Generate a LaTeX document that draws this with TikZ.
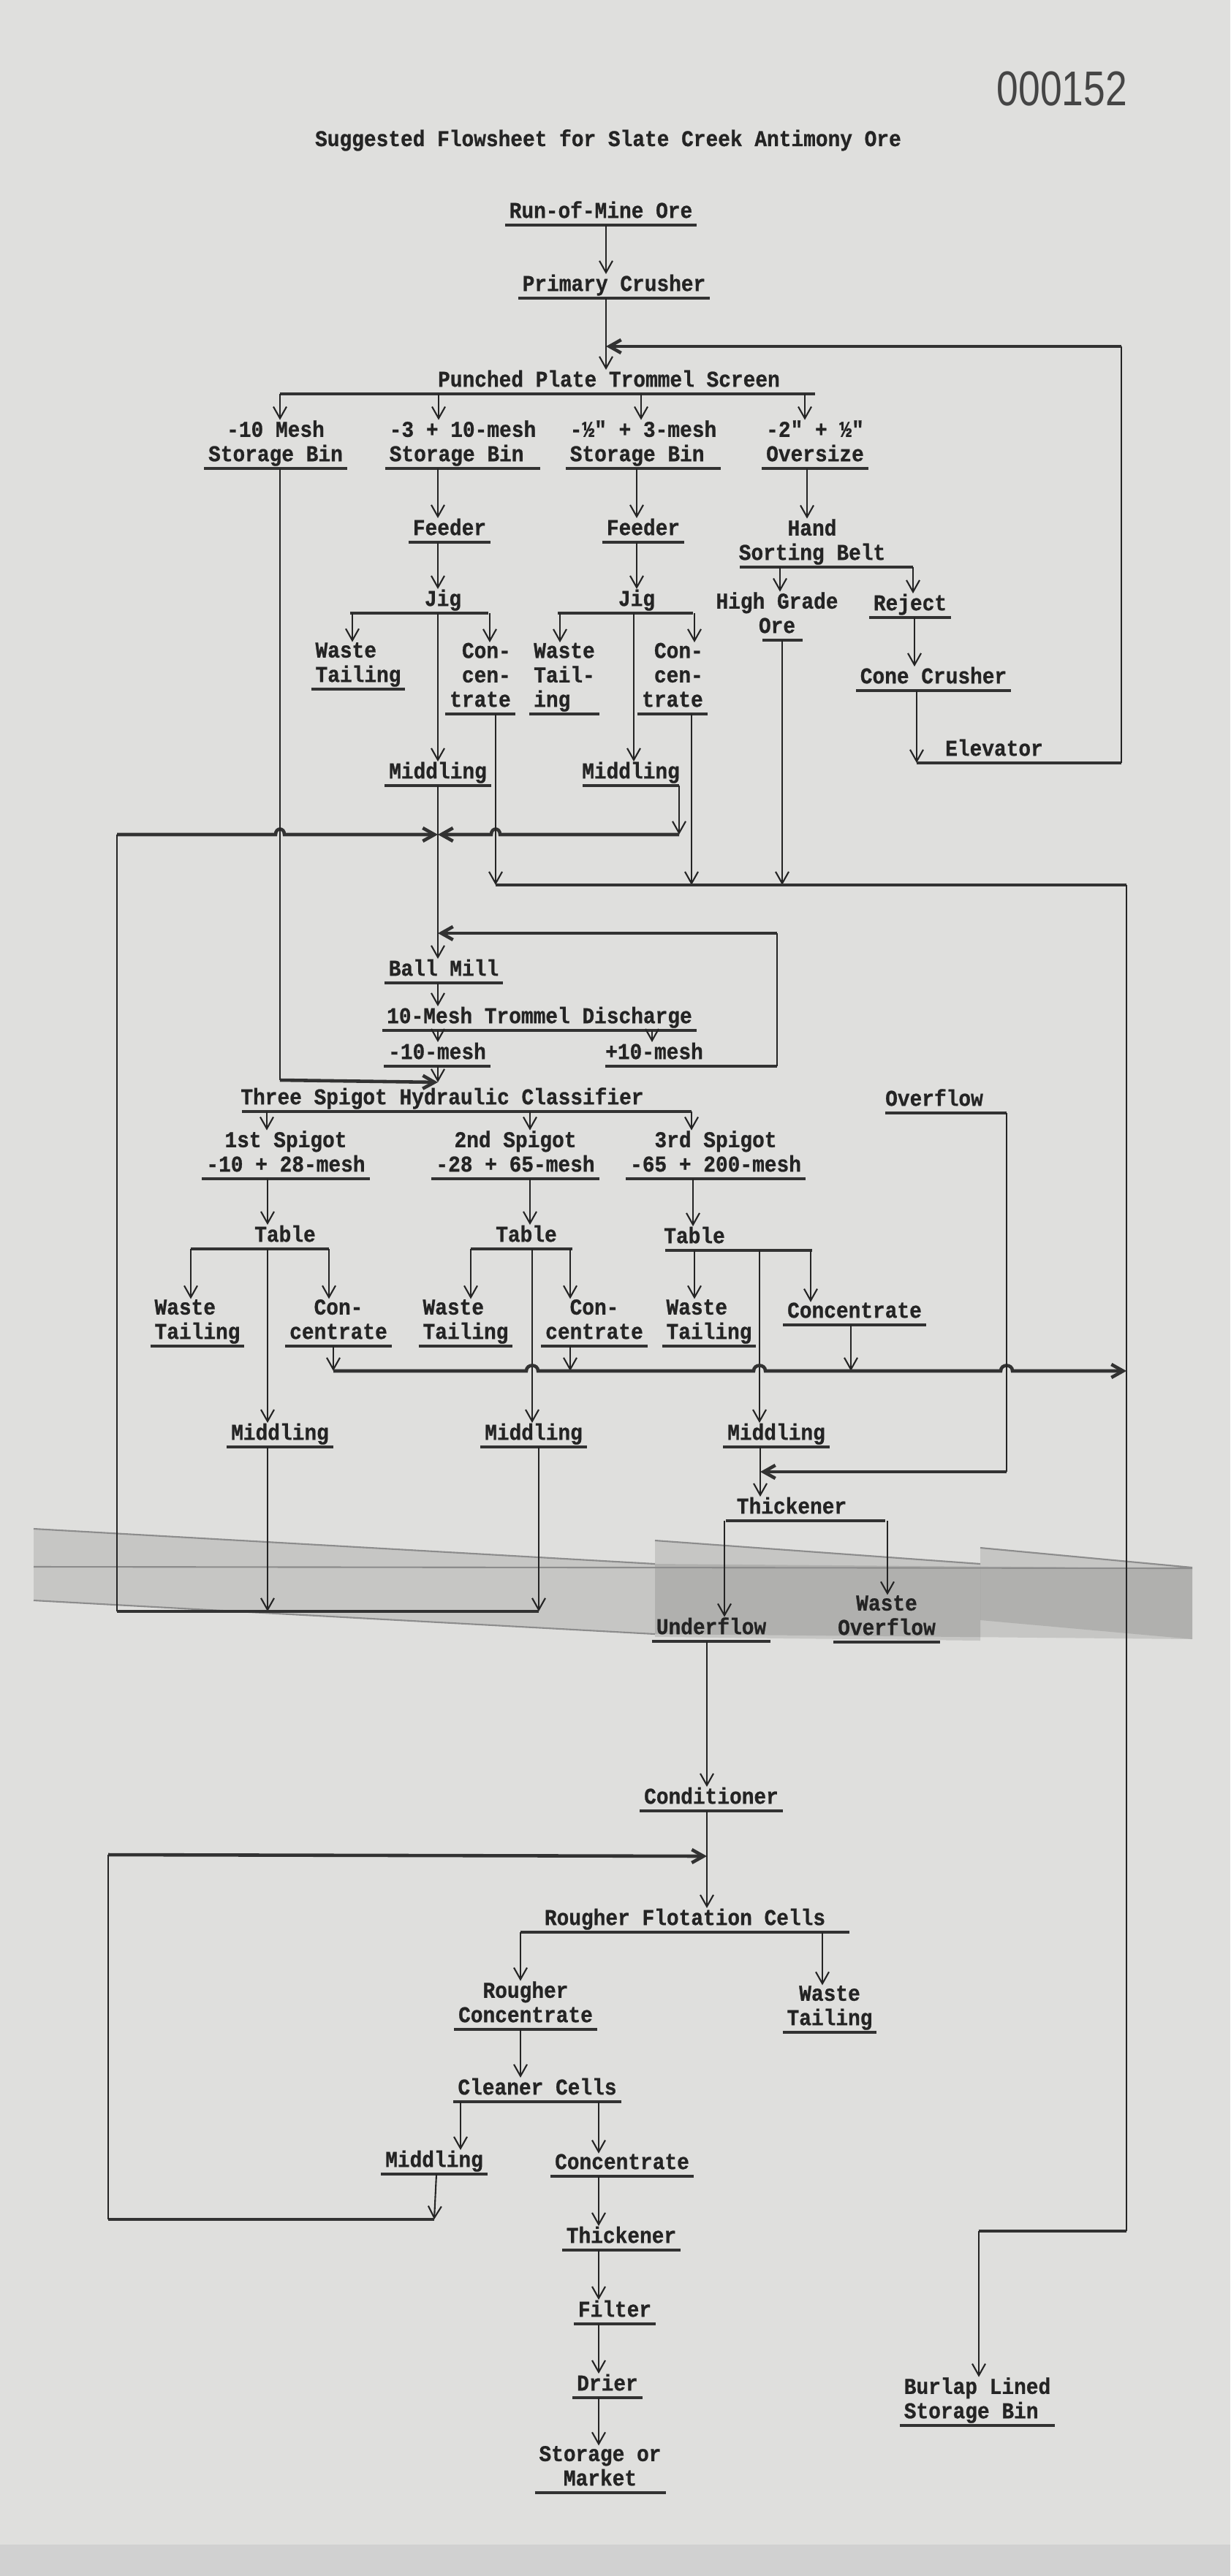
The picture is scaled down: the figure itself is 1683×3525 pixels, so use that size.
\documentclass[tikz,border=0pt]{standalone}
\usepackage{fontspec}
\setmonofont{Liberation Mono}[FakeStretch=0.9, BoldFeatures={FakeBold=0.8}]
\newfontfamily\stampfont{Liberation Sans}[FakeStretch=0.8]
\usetikzlibrary{arrows.meta}
\definecolor{paper}{RGB}{223,223,221}
\definecolor{ink}{RGB}{36,36,36}
\definecolor{ribbon}{RGB}{50,50,50}
\tikzset{
  base/.style={font=\fontsize{8.8}{9.5}\selectfont\ttfamily\bfseries, text=ink,
    inner xsep=1.5pt, inner ysep=0pt, text depth=2.6pt, anchor=south, align=center},
  lab/.style={base, append after command={(\tikzlastnode.south west) edge[uline] (\tikzlastnode.south east)}},
  uline/.style={draw=ribbon, line width=1.3pt},
  bar/.style={draw=ribbon, line width=1.3pt},
  flow/.style={draw=ink, line width=0.6pt},
  tape/.style={fill=black, fill opacity=0.11},
}
\begin{document}
\begin{tikzpicture}[x=0.1mm, y=-0.1mm, >={Straight Barb[length=1.6mm,width=1.8mm]}]
\useasboundingbox (0,0) rectangle (1683,3525);
\fill[paper] (0,0) rectangle (1683,3525);
\fill[black!18] (0,3482) rectangle (1683,3525);
% tape across the sheet
\fill[tape] (46,2092) -- (896,2140) -- (1631,2146) -- (1631,2243) -- (896,2236) -- (46,2190) -- cycle;
\fill[tape] (896,2108) -- (1341,2140) -- (1341,2245) -- (896,2240) -- cycle;
\fill[tape] (1341,2118) -- (1631,2145) -- (1631,2243) -- (1341,2217) -- cycle;
\draw[black!45, line width=0.6pt] (46,2092) -- (896,2140) (896,2108) -- (1341,2140) (1341,2118) -- (1631,2145) (46,2144) -- (1631,2146) (46,2190) -- (896,2236);

\node[base, anchor=base] (title) at (832,200) {Suggested Flowsheet for Slate Creek Antimony Ore};
\node[font=\stampfont\fontsize{19}{19}\selectfont, text=ink!85] (stamp) at (1453,122) {000152};

% crushing and screening
\node[lab] (run) at (822,308) {Run-of-Mine Ore};
\node[lab] (crush) at (840,408) {Primary Crusher};
\node[base] (screen) at (833,539) {Punched Plate Trommel Screen};
\node[lab] (binA) at (377,641) {-10 Mesh\\Storage Bin};
\node[lab, align=left] (binB) at (633,641) {-3 + 10-mesh\\Storage Bin};
\node[lab, align=left] (binC) at (880,641) {-½" + 3-mesh\\Storage Bin};
\node[lab] (over) at (1115,641) {-2" + ½"\\Oversize};
\node[lab] (feedA) at (615,742) {Feeder};
\node[lab] (feedB) at (880,742) {Feeder};
\node[base] (hand) at (1111,776) {Hand\\Sorting Belt};
\node[base] (jigA) at (606,839) {Jig};
\node[base] (jigB) at (871,839) {Jig};
\node[base] (high) at (1063,876) {High Grade\\Ore};
\node[lab] (reject) at (1245,845) {Reject};
\node[lab] (cone) at (1277,945) {Cone Crusher};
\node[base] (elev) at (1360,1044) {Elevator};
\node[lab, align=left] (wtA) at (490,943) {Waste\\Tailing};
\node[lab, align=right] (ccA) at (657,977) {Con-\\cen-\\trate};
\node[lab, align=left] (wtB) at (772,977) {Waste\\Tail-\\ing};
\node[lab, align=right] (ccB) at (920,977) {Con-\\cen-\\trate};
\node[lab] (midA) at (599,1075) {Middling};
\node[base] (midB) at (863,1075) {Middling};

% grinding and classifying
\node[lab] (ball) at (607,1345) {Ball Mill};
\node[lab] (disc) at (738,1410) {10-Mesh Trommel Discharge};
\node[lab] (minus) at (598,1459) {-10-mesh};
\node[base] (plus) at (895,1459) {+10-mesh};
\node[base] (class) at (605,1521) {Three Spigot Hydraulic Classifier};
\node[base] (ovfl) at (1278,1523) {Overflow};
\node[lab] (spA) at (391,1613) {1st Spigot\\-10 + 28-mesh};
\node[lab] (spB) at (705,1613) {2nd Spigot\\-28 + 65-mesh};
\node[lab] (spC) at (979,1613) {3rd Spigot\\-65 + 200-mesh};
\node[base] (tabA) at (390,1709) {Table};
\node[base] (tabB) at (720,1709) {Table};
\node[base] (tabC) at (950,1711) {Table};
\node[lab, align=left] (wt1) at (270,1842) {Waste\\Tailing};
\node[lab] (cc1) at (463,1842) {Con-\\centrate};
\node[lab, align=left] (wt2) at (637,1842) {Waste\\Tailing};
\node[lab] (cc2) at (813,1842) {Con-\\centrate};
\node[lab, align=left] (wt3) at (970,1842) {Waste\\Tailing};
\node[lab] (cc3) at (1169,1813) {Concentrate};
\node[lab] (md1) at (383,1980) {Middling};
\node[lab] (md2) at (730,1980) {Middling};
\node[lab] (md3) at (1062,1980) {Middling};
\node[base] (thk) at (1083,2081) {Thickener};
\node[lab] (under) at (973,2246) {Underflow};
\node[lab] (wov) at (1213,2247) {Waste\\Overflow};

% flotation
\node[lab] (cond) at (973,2478) {Conditioner};
\node[base] (rough) at (937,2644) {Rougher Flotation Cells};
\node[lab] (rconc) at (719,2777) {Rougher\\Concentrate};
\node[lab] (rwt) at (1135,2781) {Waste\\Tailing};
\node[lab] (clean) at (735,2876) {Cleaner Cells};
\node[lab] (cmid) at (594,2975) {Middling};
\node[lab] (cconc) at (851,2978) {Concentrate};
\node[lab] (thk2) at (850,3079) {Thickener};
\node[lab] (filt) at (841,3180) {Filter};
\node[lab] (drier) at (831,3281) {Drier};
\node[lab] (store) at (821,3411) {Storage or\\Market};
\node[lab, align=left] (burlap) at (1337,3319) {Burlap Lined\\Storage Bin};

% bars under the splitting points
\draw[bar] (383,539) -- (1115,539);
\draw[bar] (1012,776) -- (1249,776);
\draw[bar] (1043,876) -- (1098,876);
\draw[bar] (479,839) -- (668,839);
\draw[bar] (763,839) -- (948,839);
\draw[bar] (797,1075) -- (929,1075);
\draw[bar] (828,1459) -- (1063,1459);
\draw[bar] (331,1521) -- (946,1521);
\draw[bar] (1211,1523) -- (1377,1523);
\draw[bar] (261,1709) -- (450,1709);
\draw[bar] (644,1709) -- (783,1709);
\draw[bar] (910,1711) -- (1111,1711);
\draw[bar] (993,2081) -- (1211,2081);
\draw[bar] (712,2644) -- (1162,2644);

% crushing
\draw[flow,->] (run.south -| 829,0) -- (crush.north -| 829,0);
\draw[flow,->] (crush.south -| 829,0) -- (screen.north -| 829,0);
\foreach \x/\n in {383/binA, 600/binB, 877/binC, 1101/over}
  \draw[flow,->] (screen.south -| \x,0) -- (\n.north -| \x,0);
\draw[flow,->] (over.south -| 1104,0) -- (hand.north -| 1104,0);
\draw[flow,->] (hand.south -| 1067,0) -- (high.north -| 1067,0);
\draw[flow,->] (hand.south -| 1249,0) -- (reject.north -| 1249,0);
\draw[flow,->] (reject.south -| 1251,0) -- (cone.north -| 1251,0);
\coordinate (elevL) at (1254,1044);
\coordinate (elevR) at (1534,1044);
\coordinate (retR) at (1534,474);
\coordinate (retL) at (829,474);
\draw[flow,->] (cone.south -| elevL) -- (elevL);
\draw[bar] (elevL) -- (elevR);
\draw[flow] (elevR) -- (retR);
\draw[bar,->] (retR) -- (retL);

% jigs
\draw[flow,->] (binB.south -| 599,0) -- (feedA.north -| 599,0);
\draw[flow,->] (feedA.south -| 599,0) -- (jigA.north -| 599,0);
\draw[flow,->] (jigA.south -| 482,0) -- (wtA.north -| 482,0);
\draw[flow,->] (jigA.south -| 670,0) -- (ccA.north -| 670,0);
\draw[flow,->] (jigA.south -| 599,0) -- (midA.north -| 599,0);
\draw[flow,->] (binC.south -| 871,0) -- (feedB.north -| 871,0);
\draw[flow,->] (feedB.south -| 871,0) -- (jigB.north -| 871,0);
\draw[flow,->] (jigB.south -| 766,0) -- (wtB.north -| 766,0);
\draw[flow,->] (jigB.south -| 950,0) -- (ccB.north -| 950,0);
\draw[flow,->] (jigB.south -| 867,0) -- (midB.north -| 867,0);

% middlings back to the ball mill
\coordinate (jmeet) at (599,1142);
\coordinate (loopT) at (160,1142);
\coordinate (loopB) at (160,2205);
\draw[flow,->] (midA.south) -- (ball.north -| midA.south);
\draw[flow,->] (929,1075) -- (929,1142);
\draw[bar,->] (929,1142) -- (684,1142) .. controls (684,1132) and (672,1132) .. (672,1142) -- (jmeet);
\draw[bar,->] (loopT) -- (377,1142) .. controls (377,1132) and (389,1132) .. (389,1142) -- (jmeet);
\draw[flow] (loopB) -- (loopT);
\draw[flow,->] (md1.south -| 366,0) -- (366,2205);
\draw[flow,->] (md2.south -| 737,0) -- (737,2205);
\draw[bar] (737,2205) -- (loopB);

% jig concentrates and high grade ore to storage
\coordinate (busL) at (678,1211);
\coordinate (busR) at (1541,1211);
\coordinate (binTop) at (1541,3053);
\coordinate (binTurn) at (1339,3053);
\draw[flow,->] (ccA.south -| busL) -- (busL);
\draw[flow,->] (ccB.south -| 946,0) -- (946,1211);
\draw[flow,->] (high.south -| 1070,0) -- (1070,1211);
\draw[bar] (busL) -- (busR);
\draw[flow] (busR) -- (binTop);
\draw[bar] (binTop) -- (binTurn);
\draw[flow,->] (binTurn) -- (burlap.north -| binTurn);

% ball mill circuit
\coordinate (clsIn) at (599,1481);
\draw[flow] (binA.south -| 383,0) -- (383,1478);
\draw[bar,->] (383,1478) -- (clsIn);
\draw[flow,->] (ball.south -| 599,0) -- (disc.north -| 599,0);
\draw[flow,->] (disc.south -| 599,0) -- (minus.north -| 599,0);
\draw[flow,->] (disc.south -| 892,0) -- (plus.north -| 892,0);
\draw[flow,->] (minus.south -| 599,0) -- (clsIn);
\draw[flow] (1063,1459) -- (1063,1277);
\draw[bar,->] (1063,1277) -- (599,1277);

% classifier and tables
\foreach \x/\n in {365/spA, 725/spB, 946/spC}
  \draw[flow,->] (class.south -| \x,0) -- (\n.north -| \x,0);
\draw[flow,->] (spA.south -| 366,0) -- (tabA.north -| 366,0);
\draw[flow,->] (spB.south -| 725,0) -- (tabB.north -| 725,0);
\draw[flow,->] (spC.south -| 948,0) -- (tabC.north -| 948,0);
\foreach \x/\n in {261/wt1, 366/md1, 450/cc1}
  \draw[flow,->] (tabA.south -| \x,0) -- (\n.north -| \x,0);
\foreach \x/\n in {644/wt2, 728/md2, 780/cc2}
  \draw[flow,->] (tabB.south -| \x,0) -- (\n.north -| \x,0);
\foreach \x/\n in {950/wt3, 1039/md3, 1109/cc3}
  \draw[flow,->] (tabC.south -| \x,0) -- (\n.north -| \x,0);

% table concentrates
\draw[flow,->] (cc1.south -| 456,0) -- (456,1876);
\draw[flow,->] (cc2.south -| 780,0) -- (780,1876);
\draw[flow,->] (cc3.south -| 1164,0) -- (1164,1876);
\draw[bar,->] (456,1876) -- (720,1876) .. controls (720,1866) and (736,1866) .. (736,1876)
  -- (1031,1876) .. controls (1031,1866) and (1047,1866) .. (1047,1876)
  -- (1369,1876) .. controls (1369,1866) and (1385,1866) .. (1385,1876) -- (1541,1876);

% thickener
\draw[flow,->] (md3.south -| 1040,0) -- (thk.north -| 1040,0);
\draw[flow] (1377,1523) -- (1377,2014);
\draw[bar,->] (1377,2014) -- (1040,2014);
\draw[flow,->] (thk.south -| 991,0) -- (under.north -| 991,0);
\draw[flow,->] (thk.south -| 1214,0) -- (wov.north -| 1214,0);

% flotation
\coordinate (clnT) at (148,2538);
\coordinate (clnB) at (148,3037);
\draw[flow,->] (under.south -| 967,0) -- (cond.north -| 967,0);
\draw[flow,->] (cond.south -| 967,0) -- (rough.north -| 967,0);
\draw[flow,->] (rough.south -| 712,0) -- (rconc.north -| 712,0);
\draw[flow,->] (rough.south -| 1125,0) -- (rwt.north -| 1125,0);
\draw[flow,->] (rconc.south -| 712,0) -- (clean.north -| 712,0);
\draw[flow,->] (clean.south -| 630,0) -- (cmid.north -| 630,0);
\draw[flow,->] (clean.south -| 819,0) -- (cconc.north -| 819,0);
\draw[flow,->] (cmid.south -| 597,0) -- (clnB -| cmid.south);
\draw[bar] (clnB -| cmid.south) -- (clnB);
\draw[flow] (clnB) -- (clnT);
\draw[bar,->] (clnT) -- (967,2540);
\foreach \a/\b in {cconc/thk2, thk2/filt, filt/drier, drier/store}
  \draw[flow,->] (\a.south -| 819,0) -- (\b.north -| 819,0);
\end{tikzpicture}
\end{document}
